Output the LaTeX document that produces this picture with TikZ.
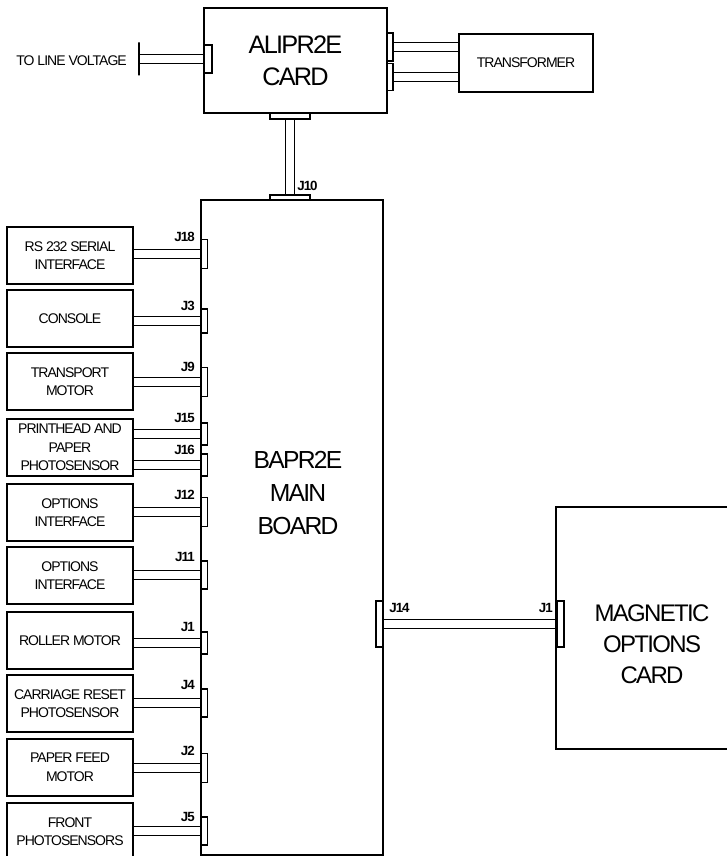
\documentclass[tikz,border=0pt]{standalone}
\usepackage{fontspec}
\setmainfont{Liberation Sans}[LetterSpace=-7]
\usetikzlibrary{backgrounds}

\tikzset{
  board/.style={draw, line width=1.4pt, inner sep=0pt},
  unit/.style={draw, line width=1pt, inner sep=0pt, minimum width=94.5pt,
    minimum height=42.75pt, align=center, font=\fontsize{10.5}{13.9}\selectfont},
  jack/.style={draw, line width=0.8pt, inner sep=0pt, minimum width=5.5pt, minimum height=21pt},
  cable/.style={line width=0.9pt, double=white, double distance=5.8pt},
  jlab/.style={font=\bfseries\fontsize{10}{10}\selectfont, inner sep=0pt},
  bigtxt/.style={font=\fontsize{18.5}{25}\selectfont, align=center, inner sep=0pt},
}

\begin{document}
\begin{tikzpicture}[x=0.75pt, y=-0.75pt]
            \useasboundingbox (0,0) rectangle (726,856);

            % power card and transformer
            \node[board, bigtxt, minimum width=137.25pt, minimum height=78.75pt,
              font=\fontsize{19}{24}\selectfont] (alipr) at (295.5,60.5) {ALIPR2E\\CARD};
            \node[unit, minimum width=100.5pt, minimum height=43.5pt] (trans) at (526,63) {TRANSFORMER};
            \node[anchor=east, inner sep=0pt, font=\fontsize{10.5}{12}\selectfont] (volt) at (127,61) {TO LINE VOLTAGE};
            \node[draw, line width=0.8pt, inner sep=0pt, minimum width=0pt, minimum height=24.75pt] (term) at (139,59) {};
            \node[jack, minimum width=6pt] (acin) at (208,59) {};
            \node[jack, minimum width=4.5pt] (tj1) at (390,47) {};
            \node[jack, minimum width=4.5pt, minimum height=20.25pt] (tj2) at (390,77) {};
            \node[jack, minimum width=30pt, minimum height=4.5pt] (abot) at (290,116) {};

            % main board
            \node[board, minimum width=136.5pt, minimum height=491.25pt] (main) at (292,527.5) {};
            \node[bigtxt] (mainlbl) at (298,493) {BAPR2E\\MAIN\\BOARD};
            \node[jack, minimum width=30pt, minimum height=3.75pt] (j10) at (290,197.5) {};
            \node[jlab, anchor=west] at (297,186) {J10};

            % units on the left
            \node[unit] (rs) at (70,255.5) {RS 232 SERIAL\\INTERFACE};
            \node[unit] (con) at (70,318.5) {CONSOLE};
            \node[unit] (tmot) at (70,381.5) {TRANSPORT\\MOTOR};
            \node[unit] (phead) at (70,447.5) {PRINTHEAD AND\\PAPER\\PHOTOSENSOR};
            \node[unit] (opt1) at (70,512.5) {OPTIONS\\INTERFACE};
            \node[unit] (opt2) at (70,575.5) {OPTIONS\\INTERFACE};
            \node[unit] (roll) at (70,640.5) {ROLLER MOTOR};
            \node[unit] (carr) at (70,703.5) {CARRIAGE RESET\\PHOTOSENSOR};
            \node[unit] (pfeed) at (70,767.5) {PAPER FEED\\MOTOR};
            \node[unit] (front) at (70,831.5) {FRONT\\PHOTOSENSORS};

            % jacks on the main board
            \node[jack, minimum height=21.75pt] (j18) at (204,254) {};
            \node[jack, minimum height=18pt] (j3) at (204,321) {};
            \node[jack, minimum height=21.75pt] (j9) at (204,382) {};
            \node[jack, minimum height=16.5pt] (j15) at (204,434) {};
            \node[jack, minimum height=16.5pt] (j16) at (204,465) {};
            \node[jack, minimum height=21.75pt] (j12) at (204,512) {};
            \node[jack] (j11) at (204,575) {};
            \node[jack, minimum height=16.5pt] (j1) at (204,643) {};
            \node[jack] (j4) at (204,703) {};
            \node[jack, minimum height=21.75pt] (j2) at (204,768) {};
            \node[jack] (j5) at (204,831) {};
            \node[jack, minimum width=5.25pt, minimum height=34.5pt] (j14) at (379.5,624) {};

            \node[jlab, anchor=east] at (195,237) {J18};
            \node[jlab, anchor=east] at (195,306) {J3};
            \node[jlab, anchor=east] at (195,367) {J9};
            \node[jlab, anchor=east] at (195,418) {J15};
            \node[jlab, anchor=east] at (195,450) {J16};
            \node[jlab, anchor=east] at (195,495) {J12};
            \node[jlab, anchor=east] at (195,557) {J11};
            \node[jlab, anchor=east] at (195,627) {J1};
            \node[jlab, anchor=east] at (195,685) {J4};
            \node[jlab, anchor=east] at (195,751) {J2};
            \node[jlab, anchor=east] at (195,817) {J5};
            \node[jlab, anchor=west] at (389,608) {J14};

            % magnetic options card
            \node[board, minimum width=142.5pt, minimum height=181.5pt] (mag) at (651,628) {};
            \node[bigtxt, font=\fontsize{18}{23.25}\selectfont] (maglbl) at (652,644) {MAGNETIC\\OPTIONS\\CARD};
            \node[jack, minimum width=5.25pt, minimum height=34.5pt] (mj1) at (560.5,624) {};
            \node[jlab, anchor=east] at (553,608) {J1};

            % cables
            \begin{scope}[on background layer]
              \draw[cable] (term.center) -- (acin.west);
              \draw[cable] (tj1.east) -- (trans.west |- tj1.east);
              \draw[cable] (tj2.east) -- (trans.west |- tj2.east);
              \draw[cable] (abot.south) -- (j10.north);
              \draw[cable] (rs.east |- j18) -- (j18.west);
              \draw[cable] (con.east |- j3) -- (j3.west);
              \draw[cable] (tmot.east |- j9) -- (j9.west);
              \draw[cable] (phead.east |- j15) -- (j15.west);
              \draw[cable] (phead.east |- j16) -- (j16.west);
              \draw[cable] (opt1.east |- j12) -- (j12.west);
              \draw[cable] (opt2.east |- j11) -- (j11.west);
              \draw[cable] (roll.east |- j1) -- (j1.west);
              \draw[cable] (carr.east |- j4) -- (j4.west);
              \draw[cable] (pfeed.east |- j2) -- (j2.west);
              \draw[cable] (front.east |- j5) -- (j5.west);
              \draw[cable] (j14.east) -- (mj1.west);
            \end{scope}
\end{tikzpicture}
\end{document}
